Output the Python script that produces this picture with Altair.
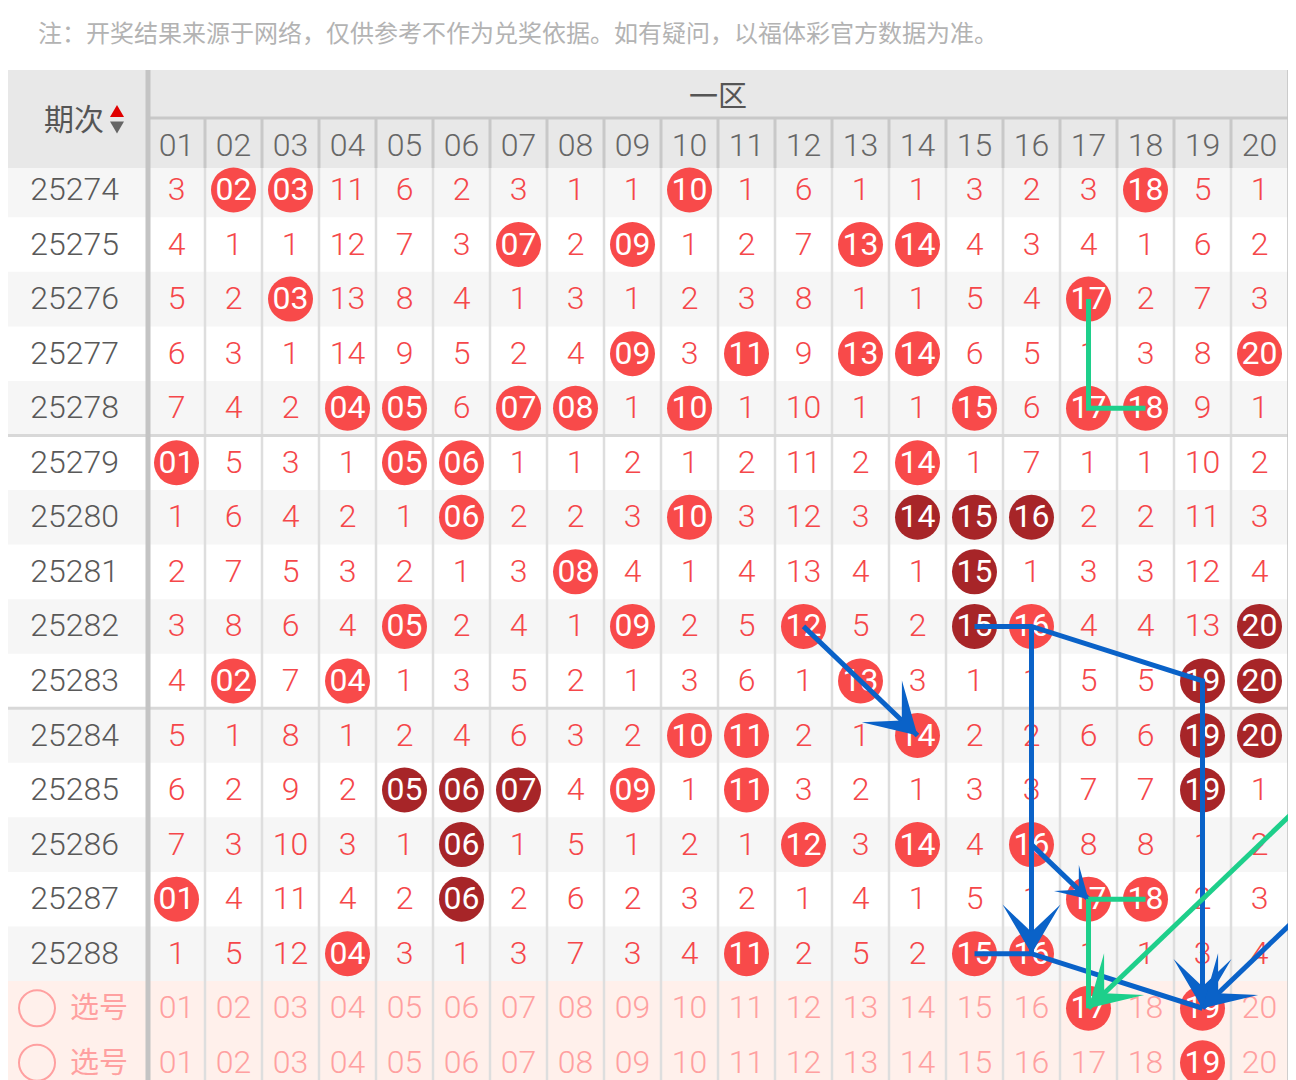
import math
import altair as alt
import pandas as pd

# ---------------- data ----------------
NOTE = "注：开奖结果来源于网络，仅供参考不作为兑奖依据。如有疑问，以福体彩官方数据为准。"
ZONE = "一区"
PERIOD_HEAD = "期次"
SELECT_LABEL = "选号"

periods = [25274, 25275, 25276, 25277, 25278, 25279, 25280, 25281,
           25282, 25283, 25284, 25285, 25286, 25287, 25288]
numbers = ["01", "02", "03", "04", "05", "06", "07", "08", "09", "10",
           "11", "12", "13", "14", "15", "16", "17", "18", "19", "20"]

# omission counts; 0 = number drawn in that period (shown as a ball)
omissions = [
    [3, 0, 0, 11, 6, 2, 3, 1, 1, 0, 1, 6, 1, 1, 3, 2, 3, 0, 5, 1],      # 25274
    [4, 1, 1, 12, 7, 3, 0, 2, 0, 1, 2, 7, 0, 0, 4, 3, 4, 1, 6, 2],      # 25275
    [5, 2, 0, 13, 8, 4, 1, 3, 1, 2, 3, 8, 1, 1, 5, 4, 0, 2, 7, 3],      # 25276
    [6, 3, 1, 14, 9, 5, 2, 4, 0, 3, 0, 9, 0, 0, 6, 5, 1, 3, 8, 0],      # 25277
    [7, 4, 2, 0, 0, 6, 0, 0, 1, 0, 1, 10, 1, 1, 0, 6, 0, 0, 9, 1],      # 25278
    [0, 5, 3, 1, 0, 0, 1, 1, 2, 1, 2, 11, 2, 0, 1, 7, 1, 1, 10, 2],     # 25279
    [1, 6, 4, 2, 1, 0, 2, 2, 3, 0, 3, 12, 3, 0, 0, 0, 2, 2, 11, 3],     # 25280
    [2, 7, 5, 3, 2, 1, 3, 0, 4, 1, 4, 13, 4, 1, 0, 1, 3, 3, 12, 4],     # 25281
    [3, 8, 6, 4, 0, 2, 4, 1, 0, 2, 5, 0, 5, 2, 0, 0, 4, 4, 13, 0],      # 25282
    [4, 0, 7, 0, 1, 3, 5, 2, 1, 3, 6, 1, 0, 3, 1, 1, 5, 5, 0, 0],       # 25283
    [5, 1, 8, 1, 2, 4, 6, 3, 2, 0, 0, 2, 1, 0, 2, 2, 6, 6, 0, 0],       # 25284
    [6, 2, 9, 2, 0, 0, 0, 4, 0, 1, 0, 3, 2, 1, 3, 3, 7, 7, 0, 1],       # 25285
    [7, 3, 10, 3, 1, 0, 1, 5, 1, 2, 1, 0, 3, 0, 4, 0, 8, 8, 1, 2],      # 25286
    [0, 4, 11, 4, 2, 0, 2, 6, 2, 3, 2, 1, 4, 1, 5, 1, 0, 0, 2, 3],      # 25287
    [1, 5, 12, 0, 3, 1, 3, 7, 3, 4, 0, 2, 5, 2, 0, 0, 1, 1, 3, 4],      # 25288
]

# balls drawn in the dark colour (repeat / consecutive runs)
dark_balls = {
    25280: [14, 15, 16], 25281: [15], 25282: [15, 20], 25283: [19, 20],
    25284: [19, 20], 25285: [5, 6, 7, 19], 25286: [6], 25287: [6],
}

# two "选号" rows at the bottom: picked numbers
select_picks = [[17, 19], [19]]

# trend lines: (column number, row index) ; rows 15/16 are the 选号 rows
blue_paths = [
    [(12, 8), (14, 10)],
    [(15, 8), (16, 8), (19, 9), (19, 15)],
    [(16, 8), (16, 14)],
    [(16, 12), (17, 13)],
    [(15, 14), (16, 14), (19, 15)],
    [(22, 12), (19, 15)],
]
blue_arrow_scale = [1.0, 1.0, 1.0, 0.62, 0.0, 1.0]
green_paths = [
    [(17, 2), (17, 4), (18, 4)],
    [(18, 13), (17, 13), (17, 15)],
    [(22, 10), (17, 15)],
]
green_arrow_scale = [0.0, 0.0, 1.0]

# ---------------- style / layout ----------------
FONT = "Noto Sans CJK SC"
DIGIT_FONT = "Roboto"
DIGIT_WEIGHT = 300
RED = "#f84a4a"
DARK = "#a72528"
OMIT = "#f5474a"
PINK_TXT = "#ffa0a0"
PINK_BG = "#fff0eb"
HEAD_BG = "#e8e8e8"
BAND = "#f6f6f6"
BLUE = "#0a62c8"
GREEN = "#1ecf8b"

COL_W = 57.0
ROW_H = 54.55
COL_LEFT = 148.0
ROW0_Y = 190.0
W, H = 1280, 1072
ORIGIN = 8
NUM_FS = 32


def cx(p):
    return (p - COL_LEFT) / COL_W + 0.5


def ry(p):
    return (p - ROW0_Y) / ROW_H


XMIN, XMAX = cx(ORIGIN), cx(ORIGIN + W)
YMIN, YMAX = ry(ORIGIN), ry(ORIGIN + H)
XS = alt.Scale(domain=[XMIN, XMAX], nice=False, zero=False)
YS = alt.Scale(domain=[YMIN, YMAX], nice=False, zero=False, reverse=True)


def X(f):
    return alt.X(f, type="quantitative", scale=XS, axis=None)


def Y(f):
    return alt.Y(f, type="quantitative", scale=YS, axis=None)


NROWS = len(periods)
RIGHT = 20.5
BOTTOM = NROWS + 1.5

# ---- background rects
rects = []
for i in range(NROWS):
    if i % 2 == 0:
        rects.append(dict(x1=XMIN - 1, x2=RIGHT, y1=i - 0.5, y2=i + 0.5, fill=BAND))
rects.append(dict(x1=XMIN - 1, x2=RIGHT, y1=NROWS - 0.5, y2=BOTTOM + 1, fill=PINK_BG))
rects.append(dict(x1=XMIN - 1, x2=XMAX + 1, y1=ry(70), y2=ry(168), fill=HEAD_BG))
rect_df = pd.DataFrame(rects)
bg = alt.Chart(rect_df).mark_rect().encode(
    x=X("x1"), x2="x2", y=Y("y1"), y2="y2", fill=alt.Fill("fill:N", scale=None)
)

# ---- grid rules
rules = []
for c in range(1, 20):
    b = c + 0.5
    rules.append(dict(x1=b, x2=b, y1=ry(168), y2=BOTTOM + 1, col="#dedede", w=2.5))
    rules.append(dict(x1=b, x2=b, y1=ry(118), y2=ry(168), col="#c8c8c8", w=3))
rules.append(dict(x1=0.5, x2=RIGHT, y1=ry(118), y2=ry(118), col="#c8c8c8", w=3))
for b in (4.5, 9.5):
    rules.append(dict(x1=XMIN - 1, x2=RIGHT, y1=b, y2=b, col="#d8d8d8", w=3))
rules.append(dict(x1=0.5, x2=0.5, y1=ry(70), y2=BOTTOM + 1, col="#c4c4c4", w=5))
rules.append(dict(x1=RIGHT + 0.03, x2=RIGHT + 0.03, y1=ry(70), y2=BOTTOM + 1, col="#c4c4c4", w=5))
rule_df = pd.DataFrame(rules)
grid = alt.Chart(rule_df).mark_rule().encode(
    x=X("x1"), x2="x2", y=Y("y1"), y2="y2",
    color=alt.Color("col:N", scale=None),
    strokeWidth=alt.StrokeWidth("w:Q", scale=None),
)

# ---- header texts (CJK)
cjk_rows = [dict(c=cx(74), r=ry(121), t=PERIOD_HEAD, fs=30, col="#555555"),
            dict(c=cx(718), r=ry(98), t=ZONE, fs=29, col="#555555")]
for j in range(len(select_picks)):
    cjk_rows.append(dict(c=cx(99), r=NROWS + j + 0.02, t=SELECT_LABEL, fs=29, col=PINK_TXT))
cjk_df = pd.DataFrame(cjk_rows)
cjk_txt = alt.Chart(cjk_df).mark_text(font=FONT, align="center", baseline="middle").encode(
    x=X("c"), y=Y("r"), text="t:N",
    color=alt.Color("col:N", scale=None), size=alt.Size("fs:Q", scale=None),
)

# ---- header digits: column numbers and periods
dig_rows = []
for k, n in enumerate(numbers):
    dig_rows.append(dict(c=k + 1, r=ry(146), t=n, col="#666666"))
for i, p in enumerate(periods):
    dig_rows.append(dict(c=cx(74.5), r=i, t=str(p), col="#595959"))
dig_df = pd.DataFrame(dig_rows)
dig_txt = alt.Chart(dig_df).mark_text(font=DIGIT_FONT, fontWeight=DIGIT_WEIGHT, fontSize=NUM_FS,
                                       align="center", baseline="middle").encode(
    x=X("c"), y=Y("r"), text="t:N", color=alt.Color("col:N", scale=None))

note_df = pd.DataFrame([dict(c=cx(38), r=ry(35), t=NOTE)])
note = alt.Chart(note_df).mark_text(font=FONT, align="left", baseline="middle",
                                     fontSize=24, color="#b3b3b3").encode(
    x=X("c"), y=Y("r"), text="t:N")

tri_df = pd.DataFrame([dict(c=cx(117), r=ry(111), s="M0,-0.85L1,0.85L-1,0.85Z", col="#e00000"),
                       dict(c=cx(117), r=ry(127.5), s="M0,0.85L1,-0.85L-1,-0.85Z", col="#666666")])
tris = alt.Chart(tri_df).mark_point(filled=True, opacity=1, size=196, strokeWidth=0).encode(
    x=X("c"), y=Y("r"), shape=alt.Shape("s:N", scale=None),
    fill=alt.Fill("col:N", scale=None))

# ---- select-row outline circles
sel_circ_df = pd.DataFrame([dict(c=cx(37), r=NROWS + j) for j in range(len(select_picks))])
sel_circ = alt.Chart(sel_circ_df).mark_point(shape="circle", filled=False, size=1296,
                                              strokeWidth=2, color=PINK_TXT, opacity=1).encode(
    x=X("c"), y=Y("r"))

# ---- cells
cell_rows, ball_rows = [], []
for i, (p, row) in enumerate(zip(periods, omissions)):
    for k, v in enumerate(row):
        c = k + 1
        if v == 0:
            col = DARK if c in dark_balls.get(p, []) else RED
            ball_rows.append(dict(c=c, r=i, t=numbers[k], col=col))
        else:
            cell_rows.append(dict(c=c, r=i, t=str(v), col=OMIT))
for j, picks in enumerate(select_picks):
    for k, n in enumerate(numbers):
        c = k + 1
        if c in picks:
            ball_rows.append(dict(c=c, r=NROWS + j, t=n, col=RED))
        else:
            cell_rows.append(dict(c=c, r=NROWS + j, t=n, col=PINK_TXT))
cell_df = pd.DataFrame(cell_rows)
ball_df = pd.DataFrame(ball_rows)

cells = alt.Chart(cell_df).mark_text(font=DIGIT_FONT, fontWeight=DIGIT_WEIGHT, align="center",
                                      baseline="middle", fontSize=NUM_FS).encode(
    x=X("c"), y=Y("r"), text="t:N", color=alt.Color("col:N", scale=None))
balls = alt.Chart(ball_df).mark_circle(size=2025, opacity=1).encode(
    x=X("c"), y=Y("r"), color=alt.Color("col:N", scale=None))
ball_txt = alt.Chart(ball_df).mark_text(font=DIGIT_FONT, fontWeight=400, align="center",
                                         baseline="middle", fontSize=NUM_FS, color="white").encode(
    x=X("c"), y=Y("r"), text="t:N")

# ---- trend lines and arrows
line_rows, arrow_rows = [], []
pid = 0
for paths, scales, colr in ((blue_paths, blue_arrow_scale, BLUE),
                            (green_paths, green_arrow_scale, GREEN)):
    for path, sc in zip(paths, scales):
        for k, (c, r) in enumerate(path):
            line_rows.append(dict(pid=pid, k=k, c=c, r=r, col=colr))
        if sc > 0:
            (c1, r1), (c2, r2) = path[-2], path[-1]
            dx, dy = (c2 - c1) * COL_W, (r2 - r1) * ROW_H
            ang = (math.degrees(math.atan2(dx, -dy)) + 360) % 360
            arrow_rows.append(dict(c=c2, r=r2, ang=ang, sz=(58 * sc) ** 2, col=colr))
        pid += 1
line_df = pd.DataFrame(line_rows)
arrow_df = pd.DataFrame(arrow_rows)

lines = alt.Chart(line_df).mark_line(strokeWidth=5, strokeCap="butt", strokeJoin="miter",
                                      clip=True).encode(
    x=X("c"), y=Y("r"), detail="pid:N", order="k:Q", color=alt.Color("col:N", scale=None))
arrows = alt.Chart(arrow_df).mark_point(shape="M0,0L1,1.7L0,0.75L-1,1.7Z", filled=True,
                                         opacity=1, strokeWidth=0, clip=True).encode(
    x=X("c"), y=Y("r"), angle=alt.Angle("ang:Q", scale=None),
    size=alt.Size("sz:Q", scale=None), fill=alt.Fill("col:N", scale=None))

chart = alt.layer(bg, grid, cjk_txt, dig_txt, note, tris, sel_circ, cells, balls, ball_txt,
                  lines, arrows).properties(
    width=W, height=H, padding=0, background="white",
    autosize=alt.AutoSizeParams(type="none"),
).configure_view(stroke=None)

chart.save("out.html", embed_options={"renderer": "svg", "actions": False})
